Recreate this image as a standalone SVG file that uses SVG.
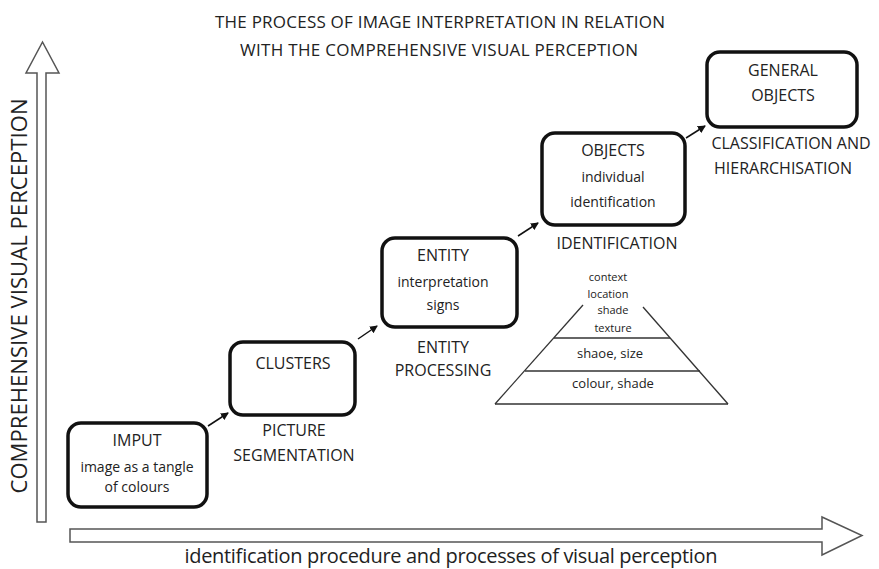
<svg xmlns="http://www.w3.org/2000/svg" width="879" height="569" viewBox="0 0 879 569">
<style>
text{font-family:"Open Sans","Noto Sans","Liberation Sans",sans-serif;fill:#222;text-anchor:middle}
.box{fill:#fff;stroke:#111;stroke-width:3.5}
.h{font-size:16px}
.s{font-size:14px}
.lb{font-size:16px}
.py{font-size:11px}
.pm{font-size:13px}
.axis{fill:#fff;stroke:#555;stroke-width:1.5}
.pl{stroke:#333;stroke-width:1.3;fill:none}
.con{stroke:#111;stroke-width:1.5;fill:none}
</style>
<defs>
<marker id="ah" markerWidth="8" markerHeight="8" refX="7" refY="4" orient="auto" markerUnits="userSpaceOnUse">
<path d="M0,0 L8,4 L0,8 Z" fill="#111"/>
</marker>
</defs>
<g id="title">
<text x="440" y="28" font-size="17" textLength="450" lengthAdjust="spacing">THE PROCESS OF IMAGE INTERPRETATION IN RELATION</text>
<text x="439" y="56" font-size="17" textLength="398" lengthAdjust="spacing">WITH THE COMPREHENSIVE VISUAL PERCEPTION</text>
</g>
<g id="y-axis">
<polygon class="axis" points="37,522 37,73 26,73 42.5,42 59,73 46,73 46,522"/>
<text transform="translate(27,296) rotate(-90)" font-size="22" textLength="395" lengthAdjust="spacing">COMPREHENSIVE VISUAL PERCEPTION</text>
</g>
<g id="x-axis">
<polygon class="axis" points="70,529 822,529 822,517 862,535.5 822,555 822,542 70,542"/>
<text x="451" y="563" font-size="20" textLength="533" lengthAdjust="spacing">identification procedure and processes of visual perception</text>
</g>
<g id="connectors">
<line class="con" x1="208" y1="426" x2="228" y2="413" marker-end="url(#ah)"/>
<line class="con" x1="358" y1="339" x2="377" y2="326" marker-end="url(#ah)"/>
<line class="con" x1="518" y1="236" x2="538" y2="223" marker-end="url(#ah)"/>
<line class="con" x1="686" y1="138" x2="705" y2="126" marker-end="url(#ah)"/>
</g>
<g id="imput">
<rect class="box" x="68" y="423" width="139" height="84" rx="13"/>
<text class="h" x="137" y="446">IMPUT</text>
<text class="s" x="137" y="472">image as a tangle</text>
<text class="s" x="137" y="492">of colours</text>
</g>
<g id="clusters">
<rect class="box" x="230" y="342" width="125" height="73" rx="13"/>
<text class="h" x="293" y="369">CLUSTERS</text>
<text class="lb" x="294" y="436">PICTURE</text>
<text class="lb" x="294" y="461">SEGMENTATION</text>
</g>
<g id="entity">
<rect class="box" x="382" y="238" width="135" height="89" rx="13"/>
<text class="h" x="443" y="261">ENTITY</text>
<text class="s" x="443" y="287">interpretation</text>
<text class="s" x="443" y="310">signs</text>
<text class="lb" x="443" y="353">ENTITY</text>
<text class="lb" x="443" y="376">PROCESSING</text>
</g>
<g id="objects">
<rect class="box" x="542" y="133" width="143" height="92" rx="13"/>
<text class="h" x="613" y="156">OBJECTS</text>
<text class="s" x="613" y="182">individual</text>
<text class="s" x="613" y="207">identification</text>
<text class="lb" x="617" y="249">IDENTIFICATION</text>
</g>
<g id="general-objects">
<rect class="box" x="707" y="52" width="150" height="75" rx="13"/>
<text class="h" x="783" y="76">GENERAL</text>
<text class="h" x="783" y="101">OBJECTS</text>
<text class="lb" x="791" y="149">CLASSIFICATION AND</text>
<text class="lb" x="783" y="174">HIERARCHISATION</text>
</g>
<g id="pyramid">
<line class="pl" x1="495" y1="404" x2="583" y2="305"/>
<line class="pl" x1="728" y1="404" x2="643" y2="307"/>
<line class="pl" x1="495" y1="404" x2="728" y2="404"/>
<line class="pl" x1="554" y1="338" x2="670" y2="338"/>
<line class="pl" x1="525" y1="371" x2="700" y2="371"/>
<text class="py" x="608" y="281">context</text>
<text class="py" x="608" y="298">location</text>
<text class="py" x="613" y="314">shade</text>
<text class="py" x="613" y="332">texture</text>
<text class="pm" x="610" y="358">shaoe, size</text>
<text class="pm" x="613" y="388">colour, shade</text>
</g>
</svg>
